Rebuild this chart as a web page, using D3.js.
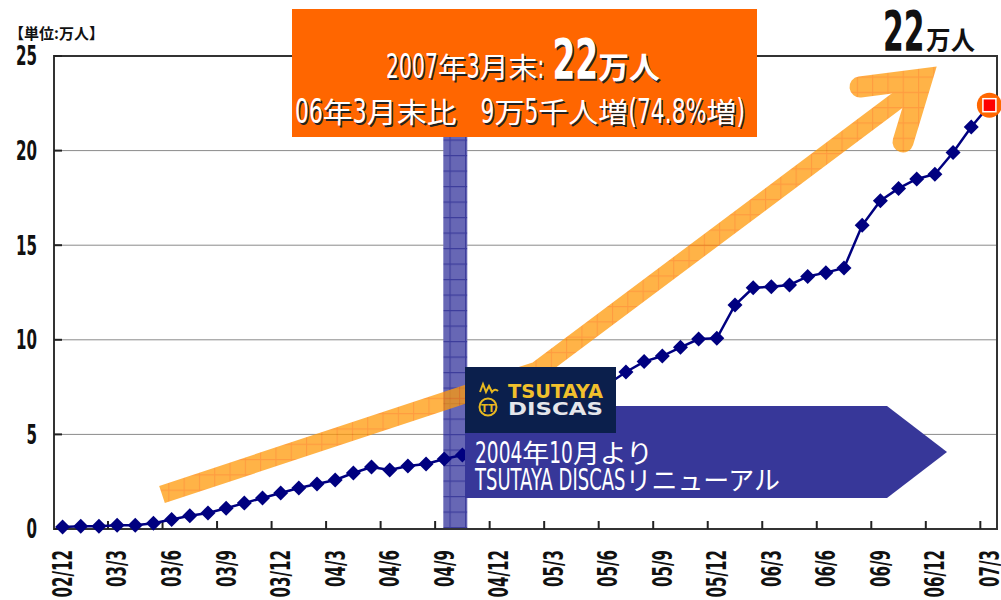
<!DOCTYPE html>
<html>
<head>
<meta charset="utf-8">
<script src="https://cdn.jsdelivr.net/npm/d3@7"></script>
<style>
  body { margin: 0; background: #fff; }
  svg { display: block; }
</style>
</head>
<body>
<div id="chart"></div>
<script>
const width = 1001;
const height = 600;

// month categories, Dec 2002 .. Mar 2007
const months = [
  "02/12",
  "03/1","03/2","03/3","03/4","03/5","03/6","03/7","03/8","03/9","03/10","03/11","03/12",
  "04/1","04/2","04/3","04/4","04/5","04/6","04/7","04/8","04/9","04/10","04/11","04/12",
  "05/1","05/2","05/3","05/4","05/5","05/6","05/7","05/8","05/9","05/10","05/11","05/12",
  "06/1","06/2","06/3","06/4","06/5","06/6","06/7","06/8","06/9","06/10","06/11","06/12",
  "07/1","07/2","07/3"
];
// members, 万人 (points 04/11..05/5 are hidden behind the callouts in the source)
const members = [
  0.1, 0.15, 0.15, 0.2, 0.2, 0.3, 0.5, 0.7, 0.85, 1.1,
  1.37, 1.64, 1.9, 2.17, 2.38, 2.59, 2.96, 3.28, 3.12, 3.33,
  3.44, 3.7, 3.91, 4.2, 4.6, 5.1, 5.6, 6.2, 6.7, 7.2,
  7.65, 8.3, 8.85, 9.14, 9.6, 10.04, 10.08, 11.84, 12.75, 12.8,
  12.9, 13.35, 13.55, 13.8, 16.05, 17.35, 18.0, 18.5, 18.75, 19.9,
  21.25, 22.4
];
const xTickLabels = ["02/12","03/3","03/6","03/9","03/12","04/3","04/6","04/9","04/12",
  "05/3","05/6","05/9","05/12","06/3","06/6","06/9","06/12","07/3"];
const yTicks = [0, 5, 10, 15, 20, 25];
const renewalMonth = "04/10";

const plot = { left: 54, right: 997, top: 56, bottom: 529 };

const svg = d3.select("#chart").append("svg")
  .attr("width", width)
  .attr("height", height);

const x = d3.scaleBand().domain(months).range([53.5, 998.5]).padding(0);
const y = d3.scaleLinear().domain([0, 25]).range([plot.bottom, plot.top]);
const cx = d => x(d) + x.bandwidth() / 2;

const defs = svg.append("defs");
// orange hatch
const po = defs.append("pattern").attr("id", "hatchOrange")
  .attr("patternUnits", "userSpaceOnUse").attr("width", 15.3).attr("height", 15.3);
po.append("rect").attr("width", 15.3).attr("height", 15.3).attr("fill", "#ff9a0a");
po.append("path").attr("d", "M0,0.5H15.3M0.5,0V15.3").attr("stroke", "#ff7a00").attr("stroke-width", 1.2);
// blue hatch
const pb = defs.append("pattern").attr("id", "hatchBlue")
  .attr("patternUnits", "userSpaceOnUse").attr("width", 15.5).attr("height", 15.5);
pb.append("rect").attr("width", 15.5).attr("height", 15.5).attr("fill", "#6767b5");
pb.append("path").attr("d", "M0,0.5H15.5M0.5,0V15.5").attr("stroke", "#3d3d9c").attr("stroke-width", 1.2);

// gridlines
svg.append("g").selectAll("line")
  .data(yTicks.filter(d => d > 0 && d < 25))
  .join("line")
  .attr("x1", plot.left).attr("x2", plot.right)
  .attr("y1", d => y(d)).attr("y2", d => y(d))
  .attr("stroke", "#8a8a8a").attr("stroke-width", 1);

// renewal marker bar
svg.append("rect")
  .attr("x", x(renewalMonth) - 10)
  .attr("y", plot.top)
  .attr("width", 24)
  .attr("height", plot.bottom - plot.top)
  .attr("fill", "url(#hatchBlue)");

// big orange trend arrow
const arrow = svg.append("g").attr("opacity", 0.75);
arrow.append("path")
  .attr("d", "M162,494.5 L537,370.5 L922,82")
  .attr("fill", "none")
  .attr("stroke", "url(#hatchOrange)")
  .attr("stroke-width", 18)
  .attr("stroke-linejoin", "miter");
arrow.append("path")
  .attr("d", "M860,87 L922,79 L903,142")
  .attr("fill", "none")
  .attr("stroke", "url(#hatchOrange)")
  .attr("stroke-width", 21)
  .attr("stroke-linecap", "round")
  .attr("stroke-linejoin", "miter");

// frame
svg.append("rect")
  .attr("x", plot.left).attr("y", plot.top)
  .attr("width", plot.right - plot.left).attr("height", plot.bottom - plot.top)
  .attr("fill", "none").attr("stroke", "#333").attr("stroke-width", 2);

// y ticks (inward) + labels
svg.append("g").selectAll("line")
  .data(yTicks)
  .join("line")
  .attr("x1", plot.left).attr("x2", plot.left + 8)
  .attr("y1", d => y(d)).attr("y2", d => y(d))
  .attr("stroke", "#222").attr("stroke-width", 2);

svg.append("g").selectAll("text")
  .data(yTicks)
  .join("text")
  .attr("transform", d => `translate(37,${y(d)}) scale(0.58,1)`)
  .attr("text-anchor", "end")
  .attr("dy", "0.36em")
  .style("font-family", "'DejaVu Sans', sans-serif")
  .style("font-weight", 700)
  .style("font-size", "26px")
  .attr("fill", "#111")
  .text(d => d);

// x ticks every 3 months at band boundaries
const tickBounds = months.map((m, i) => i).filter(i => i > 0 && i % 3 === 0);
svg.append("g").selectAll("line")
  .data(tickBounds)
  .join("line")
  .attr("x1", i => x(months[i])).attr("x2", i => x(months[i]))
  .attr("y1", plot.bottom).attr("y2", plot.bottom - 8)
  .attr("stroke", "#222").attr("stroke-width", 2);

svg.append("g").selectAll("text")
  .data(xTickLabels)
  .join("text")
  .attr("transform", d => `translate(${cx(d)},550) rotate(-90) scale(0.58,1)`)
  .attr("text-anchor", "end")
  .attr("dy", "0.36em")
  .style("font-family", "'DejaVu Sans', sans-serif")
  .style("font-weight", 700)
  .style("font-size", "26px")
  .attr("fill", "#111")
  .text(d => d);

// unit label
svg.append("text")
  .attr("x", 9).attr("y", 39)
  .style("font-family", "'Noto Sans CJK JP', sans-serif")
  .style("font-weight", 700)
  .style("font-size", "15px")
  .attr("fill", "#111")
  .text("【単位:万人】");

// data line
const series = months.map((m, i) => ({ m, v: members[i] }));
svg.append("path")
  .datum(series)
  .attr("fill", "none")
  .attr("stroke", "#000080")
  .attr("stroke-width", 2.5)
  .attr("d", d3.line().x(d => cx(d.m)).y(d => y(d.v)));

svg.append("g").selectAll("path")
  .data(series.slice(0, -1))
  .join("path")
  .attr("transform", d => `translate(${cx(d.m)},${y(d.v)})`)
  .attr("d", "M0,-7.5L7.5,0L0,7.5L-7.5,0Z")
  .attr("fill", "#000080");

const last = series[series.length - 1];
svg.append("circle")
  .attr("cx", cx(last.m)).attr("cy", y(last.v)).attr("r", 12.5)
  .attr("fill", "#ff6600");
svg.append("rect")
  .attr("x", cx(last.m) - 6.5).attr("y", y(last.v) - 6.5)
  .attr("width", 13).attr("height", 13)
  .attr("fill", "#ff0000").attr("stroke", "#fff").attr("stroke-width", 1.5);

// mixed text: narrow latin digits + CJK, fitted to a target width
function richLine(parent, parts, opt) {
  const g = parent.append("g");
  const inner = g.append("g").attr("fill", opt.fill || "#fff");
  let pos = 0;
  parts.forEach(p => {
    if (p.gap) { pos += p.gap; return; }
    const t = inner.append("text")
      .style("font-family", p.n ? "'DejaVu Sans', sans-serif" : "'Noto Sans CJK JP', sans-serif")
      .style("font-size", p.size + "px")
      .style("font-weight", p.bold ? 700 : 400)
      .text(p.t);
    const sx = p.n ? (p.sx || 0.6) : 1;
    const w = t.node().getComputedTextLength() * sx;
    t.attr("transform", `translate(${pos},0) scale(${sx},1)`);
    pos += w;
  });
  const k = opt.width ? opt.width / pos : 1;
  const w = pos * k;
  let x0 = opt.x;
  if (opt.anchor === "middle") x0 = opt.x - w / 2;
  if (opt.anchor === "end") x0 = opt.x - w;
  inner.attr("transform", `translate(${x0},${opt.y}) scale(${k},1)`);
  if (opt.shadow) {
    inner.clone(true)
      .attr("fill", opt.shadow)
      .attr("transform", `translate(${x0 + 1.5},${opt.y + 1.5}) scale(${k},1)`);
    inner.raise();
  }
  return g;
}

// blue callout arrow
svg.append("path")
  .attr("d", "M465,406 L887,406 L947,452 L887,498 L465,498 Z")
  .attr("fill", "#373799");

richLine(svg, [
  { t: "2004", n: true, size: 30 }, { t: "年", size: 26 },
  { t: "10", n: true, size: 30 }, { t: "月より", size: 26 }
], { x: 475, y: 463, width: 178, anchor: "start", fill: "#fff" });
richLine(svg, [
  { t: "TSUTAYA DISCAS", n: true, size: 30 }, { t: "リニューアル", size: 26 }
], { x: 475, y: 490, width: 305, anchor: "start", fill: "#fff" });

// logo box
const logo = svg.append("g");
logo.append("rect").attr("x", 465).attr("y", 367).attr("width", 151).attr("height", 66).attr("fill", "#0b1f4c");
logo.append("text")
  .attr("x", 508).attr("y", 398)
  .attr("textLength", 95).attr("lengthAdjust", "spacingAndGlyphs")
  .style("font-family", "'DejaVu Sans', sans-serif").style("font-weight", 700).style("font-size", "20px")
  .attr("fill", "#f1c02c").text("TSUTAYA");
logo.append("text")
  .attr("x", 508).attr("y", 415)
  .attr("textLength", 95).attr("lengthAdjust", "spacingAndGlyphs")
  .style("font-family", "'DejaVu Sans', sans-serif").style("font-weight", 700).style("font-size", "18px")
  .attr("fill", "#e4e6ea").text("DISCAS");
logo.append("circle").attr("cx", 488).attr("cy", 407).attr("r", 8.5)
  .attr("fill", "none").attr("stroke", "#e8b820").attr("stroke-width", 2);
logo.append("text").attr("x", 488).attr("y", 411.5).attr("text-anchor", "middle")
  .style("font-family", "'DejaVu Sans', sans-serif").style("font-weight", 700).style("font-size", "10px")
  .attr("fill", "#e8b820").text("TT");
logo.append("path")
  .attr("d", "M480,392 L483,384 L486,392 L489,386 L492,392 Q495,388 498,391")
  .attr("fill", "none").attr("stroke", "#e8b820").attr("stroke-width", 2);

// orange headline box
svg.append("rect").attr("x", 292).attr("y", 9).attr("width", 465).attr("height", 128).attr("fill", "#ff6600");
richLine(svg, [
  { t: "2007", n: true, size: 33 }, { t: "年", size: 28 }, { t: "3", n: true, size: 33 },
  { t: "月末", size: 28 }, { t: ":", n: true, size: 33 }, { gap: 8 },
  { t: "22", n: true, bold: true, size: 55, sx: 0.58 }, { t: "万人", bold: true, size: 30 }
], { x: 523, y: 78, width: 274, anchor: "middle", fill: "#fff", shadow: "#222" });
richLine(svg, [
  { t: "06", n: true, size: 34 }, { t: "年", size: 28 }, { t: "3", n: true, size: 34 },
  { t: "月末比", size: 28 }, { gap: 22 }, { t: "9", n: true, size: 34 }, { t: "万", size: 28 },
  { t: "5", n: true, size: 34 }, { t: "千人増", size: 28 }, { t: "(74.8%", n: true, size: 34 },
  { t: "増", size: 28 }, { t: ")", n: true, size: 34 }
], { x: 520, y: 123, width: 450, anchor: "middle", fill: "#fff", shadow: "#222" });

// top-right total
richLine(svg, [
  { t: "22", n: true, bold: true, size: 55, sx: 0.58 }, { gap: 2 }, { t: "万人", bold: true, size: 26 }
], { x: 975, y: 50, width: 92, anchor: "end", fill: "#111" });
</script>
</body>
</html>
